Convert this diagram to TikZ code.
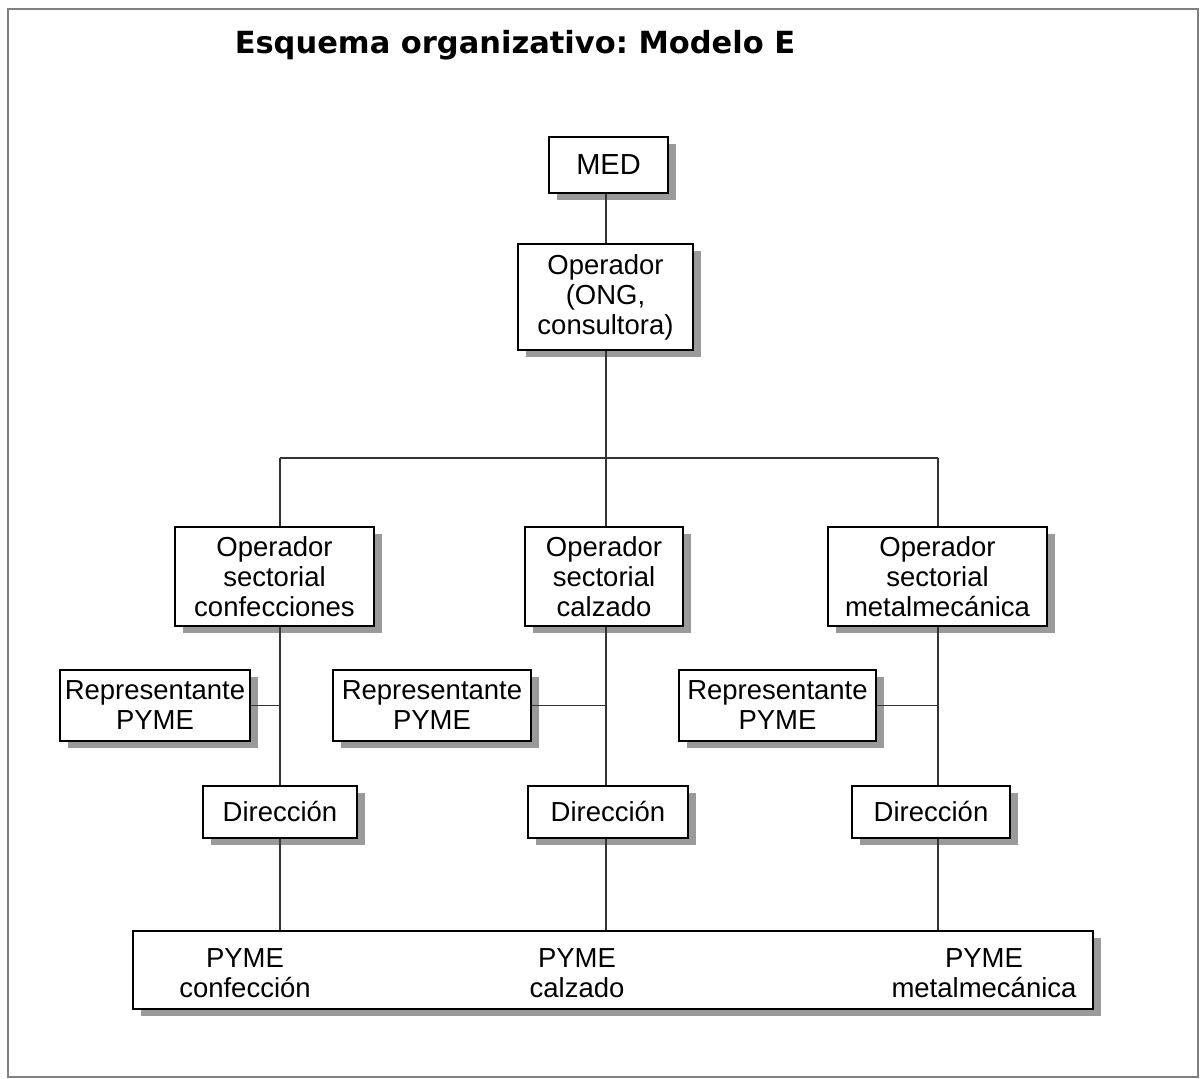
\documentclass[tikz,border=0pt]{standalone}
\usepackage{fontspec}
\setmainfont{Liberation Sans}
\newfontfamily\titlefont{DejaVu Sans}
\usetikzlibrary{shadows}
\definecolor{shade}{HTML}{9A9A9A}
\definecolor{framegray}{HTML}{808080}
\definecolor{wire}{HTML}{333333}
\tikzset{
  box/.style={draw=black, line width=1.4pt, fill=white, inner sep=0pt,
    align=center, font=\fontsize{27.5}{30}\selectfont,
    drop shadow={shadow xshift=8pt, shadow yshift=-7pt, opacity=1, fill=shade}},
  label/.style={inner sep=0pt, align=center, font=\fontsize{27.5}{30}\selectfont},
  wirestyle/.style={draw=wire, line width=1.3pt}
}
\frenchspacing
\begin{document}
\begin{tikzpicture}[x=1pt, y=-1pt]
  \useasboundingbox (0,0) rectangle (1200,1079);
  \draw[framegray, line width=2.5pt] (8,9) rectangle (1198,1077);

  \node[inner sep=0pt, font=\titlefont\bfseries\fontsize{30.5}{34}\selectfont] (title) at (515,45) {Esquema organizativo: Modelo E};

  % top of the hierarchy
  \node[box, minimum width=119pt, minimum height=56pt, font=\fontsize{29}{32}\selectfont] (med) at (608.5,165) {MED};
  \node[box, minimum width=175pt, minimum height=106pt] (op) at (605.5,297) {Operador\\(ONG,\\consultora)};

  % sector operators
  \node[box, minimum width=199pt, minimum height=99pt] (conf) at (274.5,576.5) {Operador\\sectorial\\confecciones};
  \node[box, minimum width=158pt, minimum height=99pt] (calz) at (604,576.5) {Operador\\sectorial\\calzado};
  \node[box, minimum width=219pt, minimum height=99pt] (metal) at (937.5,576.5) {Operador\\sectorial\\metalmecánica};

  % representatives
  \node[box, minimum width=190pt, minimum height=71pt] (repA) at (155,705.5) {Representante\\PYME};
  \node[box, minimum width=198pt, minimum height=71pt] (repB) at (432,705.5) {Representante\\PYME};
  \node[box, minimum width=197pt, minimum height=71pt] (repC) at (777.5,705.5) {Representante\\PYME};

  % management
  \node[box, minimum width=154pt, minimum height=52pt] (dirA) at (280,812) {Dirección};
  \node[box, minimum width=160pt, minimum height=52pt] (dirB) at (608,812) {Dirección};
  \node[box, minimum width=158pt, minimum height=52pt] (dirC) at (931,812) {Dirección};

  % SME strip
  \node[box, minimum width=960pt, minimum height=78pt] (pyme) at (613,970) {};
  \node[label] (pymeA) at (245,973) {PYME\\confección};
  \node[label] (pymeB) at (577,973) {PYME\\calzado};
  \node[label] (pymeC) at (984,973) {PYME\\metalmecánica};

  % branch points
  \coordinate (hub) at (606,458);
  \coordinate (brA) at (280,458);
  \coordinate (brC) at (938,458);

  \draw[wirestyle] (med.south -| hub) -- (op.north -| hub);
  \draw[wirestyle] (op.south -| hub) -- (hub);
  \draw[wirestyle] (brA) -- (brC);
  \draw[wirestyle] (brA) -- (brA |- conf.north);
  \draw[wirestyle] (hub) -- (hub |- calz.north);
  \draw[wirestyle] (brC) -- (brC |- metal.north);

  \draw[wirestyle] (brA |- conf.south) -- (brA |- dirA.north);
  \draw[wirestyle] (hub |- calz.south) -- (hub |- dirB.north);
  \draw[wirestyle] (brC |- metal.south) -- (brC |- dirC.north);

  \draw[wirestyle] (repA.east) -- (repA.east -| brA);
  \draw[wirestyle] (repB.east) -- (repB.east -| hub);
  \draw[wirestyle] (repC.east) -- (repC.east -| brC);

  \draw[wirestyle] (brA |- dirA.south) -- (brA |- pyme.north);
  \draw[wirestyle] (hub |- dirB.south) -- (hub |- pyme.north);
  \draw[wirestyle] (brC |- dirC.south) -- (brC |- pyme.north);
\end{tikzpicture}
\end{document}
